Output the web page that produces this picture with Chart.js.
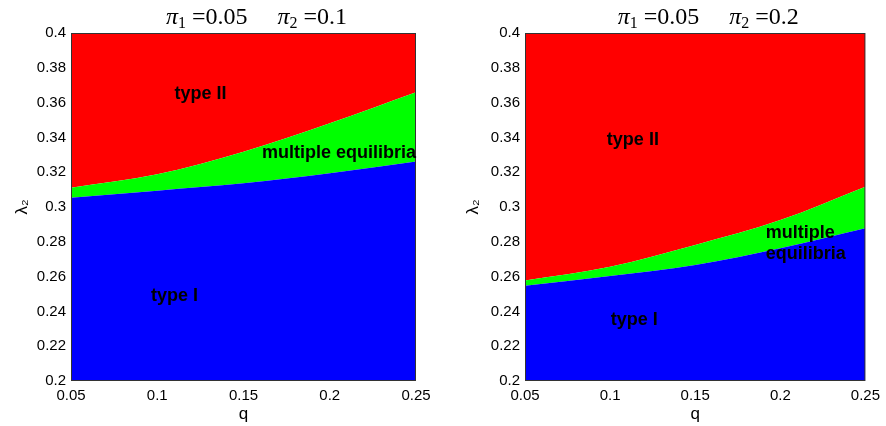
<!DOCTYPE html>
<html>
<head>
<meta charset="utf-8">
<script src="https://cdn.jsdelivr.net/npm/chart.js@4/dist/chart.umd.min.js"></script>
<style>
  body { margin: 0; background: #fff; }
  canvas { position: absolute; top: 0; }
</style>
</head>
<body>
<canvas id="left" width="443" height="426" style="left:0"></canvas>
<canvas id="right" width="443" height="426" style="left:443px"></canvas>
<script>
// q values where the boundaries were read
const qValues = [0.05, 0.1, 0.15, 0.2, 0.25];

// pi2 = 0.1
const lowerA = [0.3053, 0.3094, 0.3136, 0.3194, 0.3261];
const upperA = [0.3111, 0.3188, 0.3318, 0.3481, 0.3659];

// pi2 = 0.2
const lowerB = [0.2548, 0.2603, 0.2667, 0.2763, 0.2878];
const upperB = [0.2577, 0.2657, 0.2782, 0.2925, 0.3117];

const xTicks = [0.05, 0.1, 0.15, 0.2, 0.25];
const yTicks = [0.2, 0.22, 0.24, 0.26, 0.28, 0.3, 0.32, 0.34, 0.36, 0.38, 0.4];

const labelsA = [
  {text: 'type II', q: 0.110, y: 0.365},
  {text: 'multiple equilibria', q: 0.1607, y: 0.331},
  {text: 'type I', q: 0.0964, y: 0.249}
];
const labelsB = [
  {text: 'type II', q: 0.0981, y: 0.3385},
  {text: 'multiple', q: 0.1914, y: 0.285},
  {text: 'equilibria', q: 0.1914, y: 0.273},
  {text: 'type I', q: 0.1004, y: 0.235}
];

const pts = ys => qValues.map((q, i) => ({x: q, y: ys[i]}));

const sans = '"Liberation Sans", Arial, sans-serif';
const serif = '"Liberation Serif", "DejaVu Serif", serif';

function drawRuns(ctx, runs, cx, baseline) {
  let w = 0;
  runs.forEach(r => { ctx.font = r.font; w += ctx.measureText(r.t).width; });
  let x = cx - w / 2;
  ctx.textAlign = 'left';
  ctx.textBaseline = 'alphabetic';
  runs.forEach(r => {
    ctx.font = r.font;
    ctx.fillText(r.t, x, baseline + (r.dy || 0));
    x += ctx.measureText(r.t).width;
  });
}

function makeChart(id, lower, upper, pi2, labels, padLeft, padRight, yTitlePad) {
  const extras = {
    id: 'extras',
    afterDraw(chart) {
      const {ctx, chartArea: a, scales} = chart;
      ctx.save();
      // frame
      ctx.strokeStyle = '#333';
      ctx.lineWidth = 1;
      ctx.strokeRect(a.left + 0.5, a.top + 0.5, a.right - a.left - 1, a.bottom - a.top - 1);
      // region labels
      ctx.fillStyle = '#000';
      ctx.font = 'bold 18px ' + sans;
      ctx.textAlign = 'left';
      ctx.textBaseline = 'middle';
      labels.forEach(l => {
        ctx.fillText(l.text, scales.x.getPixelForValue(l.q), scales.y.getPixelForValue(l.y));
      });
      // title
      const big = '24px ' + serif;
      const it = 'italic 24px ' + serif;
      const sub = '16px ' + serif;
      drawRuns(ctx, [
        {t: 'π', font: it}, {t: '1', font: sub, dy: 4}, {t: ' =0.05', font: big},
        {t: '     ', font: big},
        {t: 'π', font: it}, {t: '2', font: sub, dy: 4}, {t: ' =' + pi2, font: big}
      ], (a.left + a.right) / 2 + 13, 24);
      ctx.restore();
    }
  };

  return new Chart(document.getElementById(id).getContext('2d'), {
    type: 'line',
    data: {
      datasets: [{
        data: pts(lower),
        backgroundColor: '#0000ff',
        fill: 'start'
      }, {
        data: pts(upper),
        backgroundColor: '#00ff00',
        fill: '-1'
      }, {
        data: pts(upper),
        backgroundColor: '#ff0000',
        fill: 'end'
      }]
    },
    options: {
      responsive: false,
      animation: false,
      events: [],
      layout: {padding: {top: 33, right: padRight, left: 0, bottom: 0}},
      elements: {
        point: {radius: 0},
        line: {borderWidth: 0, cubicInterpolationMode: 'monotone'}
      },
      plugins: {legend: {display: false}, tooltip: {enabled: false}},
      scales: {
        x: {
          type: 'linear',
          min: 0.05, max: 0.25,
          afterBuildTicks: s => { s.ticks = xTicks.map(v => ({value: v})); },
          afterFit: s => { s.height = 45; },
          grid: {display: false, drawTicks: false},
          border: {display: false},
          ticks: {
            color: '#000', font: {size: 15, family: sans}, padding: 6, maxRotation: 0,
            callback: v => String(+v.toFixed(2))
          },
          title: {display: true, text: 'q', color: '#000', font: {size: 17, family: sans}, padding: 1}
        },
        y: {
          type: 'linear',
          min: 0.2, max: 0.4,
          afterBuildTicks: s => { s.ticks = yTicks.map(v => ({value: v})); },
          afterFit: s => { s.width = padLeft; },
          grid: {display: false, drawTicks: false},
          border: {display: false},
          ticks: {
            color: '#000', font: {size: 15, family: sans}, padding: 5,
            callback: v => String(+v.toFixed(2))
          },
          title: {display: true, text: 'λ₂', color: '#000', font: {size: 17, family: sans}, padding: yTitlePad}
        }
      }
    },
    plugins: [extras]
  });
}

makeChart('left', lowerA, upperA, '0.1', labelsA, 71, 27, 12);
makeChart('right', lowerB, upperB, '0.2', labelsB, 82, 16, 20);
</script>
</body>
</html>
